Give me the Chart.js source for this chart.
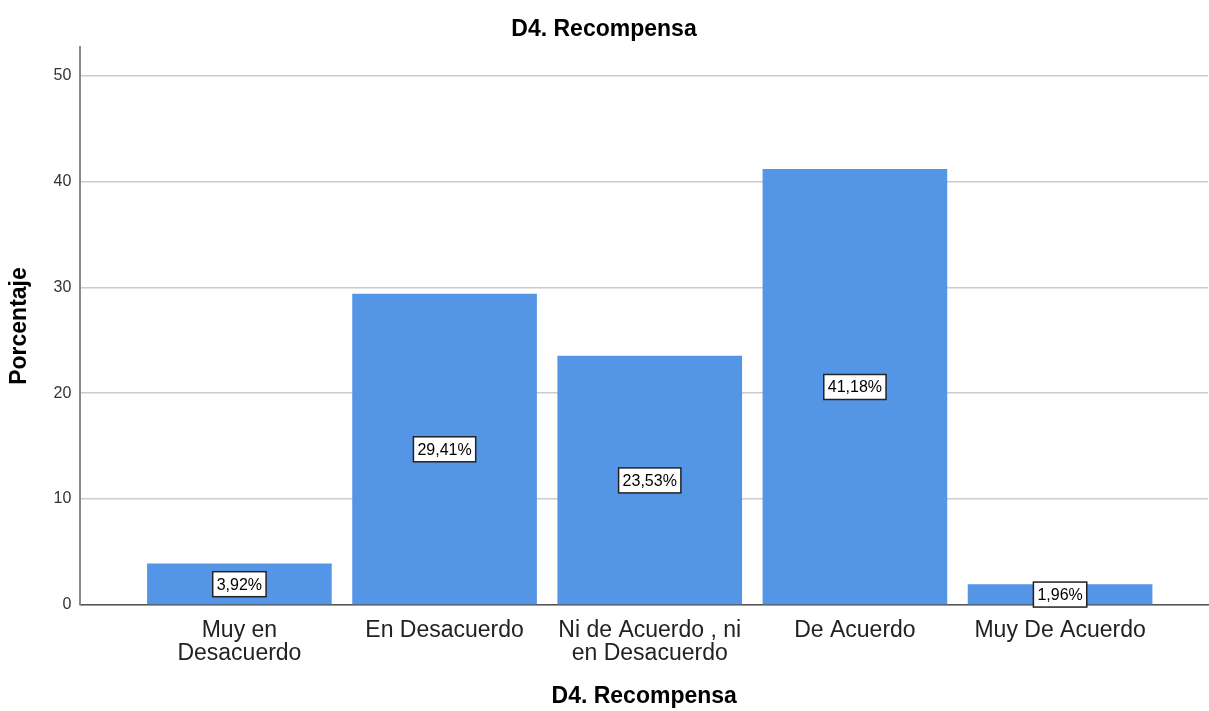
<!DOCTYPE html>
<html>
<head>
<meta charset="utf-8">
<title>D4. Recompensa</title>
<script src="https://cdn.jsdelivr.net/npm/chart.js@4.4.0/dist/chart.umd.min.js"></script>
<style>
    body { margin: 0; background: #fff; }
    canvas { display: block; }
</style>
</head>
<body>
<canvas id="chart" width="1209" height="711"></canvas>
<script>
const categories = ['Muy en Desacuerdo', 'En Desacuerdo', 'Ni de Acuerdo , ni en Desacuerdo', 'De Acuerdo', 'Muy De Acuerdo'];
const tickLabels = [['Muy en', 'Desacuerdo'], 'En Desacuerdo', ['Ni de Acuerdo , ni', 'en Desacuerdo'], 'De Acuerdo', 'Muy De Acuerdo'];
const percentages = [3.92, 29.41, 23.53, 41.18, 1.96];
const yTicks = [0, 10, 20, 30, 40, 50];

const FONT = "'Liberation Sans', Arial, sans-serif";

// white boxes with the percentage, placed halfway up each bar
const valueBoxes = {
    id: 'valueBoxes',
    afterDatasetsDraw(chart) {
        const ctx = chart.ctx;
        const yScale = chart.scales.y;
        const meta = chart.getDatasetMeta(0);
        ctx.save();
        ctx.font = '16px ' + FONT;
        ctx.textAlign = 'center';
        ctx.textBaseline = 'middle';
        meta.data.forEach((bar, i) => {
            const v = percentages[i];
            const text = v.toFixed(2).replace('.', ',') + '%';
            const cx = bar.x;
            const cy = yScale.getPixelForValue(v / 2);
            const w = ctx.measureText(text).width + 8;
            const h = 25;
            ctx.fillStyle = '#fff';
            ctx.fillRect(cx - w / 2, cy - h / 2, w, h);
            ctx.strokeStyle = '#222';
            ctx.lineWidth = 1.5;
            ctx.strokeRect(cx - w / 2, cy - h / 2, w, h);
            ctx.fillStyle = '#000';
            ctx.fillText(text, cx, cy + 1);
        });
        ctx.restore();
    }
};

const ctx = document.getElementById('chart').getContext('2d');
new Chart(ctx, {
    type: 'bar',
    data: {
        datasets: [{
            label: 'Porcentaje',
            data: percentages.map((v, i) => ({ x: i, y: v })),
            backgroundColor: '#5595e5',
            borderWidth: 0,
            barPercentage: 1,
            categoryPercentage: 0.9
        }]
    },
    options: {
        responsive: false,
        animation: false,
        layout: { padding: { left: 0, right: 1, top: 0, bottom: 0 } },
        plugins: {
            legend: { display: false },
            tooltip: { enabled: false },
            title: {
                display: true,
                text: 'D4. Recompensa',
                color: '#000',
                font: { family: FONT, size: 23, weight: 'bold', lineHeight: 1.2 },
                padding: { top: 16, bottom: 3.5 }
            }
        },
        scales: {
            x: {
                type: 'linear',
                min: -0.775,
                max: 4.721,
                offset: false,
                grid: { color: 'rgba(0,0,0,0)', drawTicks: false },
                border: { display: true, color: '#555', width: 1.5 },
                ticks: {
                    stepSize: 1,
                    includeBounds: false,
                    autoSkip: false,
                    maxRotation: 0,
                    padding: 14,
                    color: '#222',
                    font: { family: FONT, size: 23, lineHeight: 1.01 },
                    callback: v => (Number.isInteger(v) && tickLabels[v] !== undefined) ? tickLabels[v] : ''
                },
                title: {
                    display: true,
                    text: 'D4. Recompensa',
                    color: '#000',
                    font: { family: FONT, size: 23, weight: 'bold', lineHeight: 1.2 },
                    padding: { top: 3, bottom: 1 }
                }
            },
            y: {
                min: 0,
                max: 52.7,
                grid: { color: '#cccccc', lineWidth: 1.5, drawTicks: false },
                border: { display: true, color: '#8a8a8a', width: 2 },
                afterBuildTicks: scale => { scale.ticks = yTicks.map(v => ({ value: v })); },
                ticks: {
                    padding: 9,
                    color: '#333',
                    font: { family: FONT, size: 16 }
                },
                title: {
                    display: true,
                    text: 'Porcentaje',
                    color: '#000',
                    font: { family: FONT, size: 23, weight: 'bold', lineHeight: 1.2 },
                    padding: { top: 6, bottom: 11 }
                }
            }
        }
    },
    plugins: [valueBoxes]
});
</script>
</body>
</html>
